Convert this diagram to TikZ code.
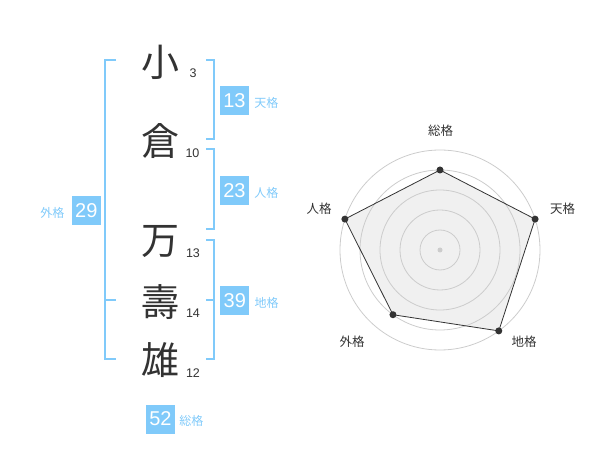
\documentclass[tikz,border=0pt]{standalone}
\usepackage{fontspec}
\setmainfont{Liberation Sans}
\newfontfamily\jfont{Noto Sans CJK JP}
\usepackage{tikz}
\usetikzlibrary{positioning}
\pgfdeclarelayer{webbg}
\pgfsetlayers{webbg,main}
\definecolor{kakublue}{RGB}{128,202,250}
\definecolor{inkgray}{RGB}{51,51,51}
\definecolor{ringgray}{RGB}{204,204,204}
\definecolor{webfill}{RGB}{240,240,240}

\begin{document}
\begin{tikzpicture}[x=1pt,y=-1pt,
	kanji/.style={text=inkgray,inner sep=0pt,font=\jfont\fontsize{38}{38}\selectfont},
	strokes/.style={text=inkgray,inner sep=0pt,font=\fontsize{12.5}{12.5}\selectfont},
	kakubox/.style={fill=kakublue,text=white,minimum size=29pt,inner sep=0pt,font=\fontsize{20}{20}\selectfont},
	kakuname/.style={text=kakublue,inner sep=0pt,font=\jfont\fontsize{12}{12}\selectfont},
	bracket/.style={draw=kakublue,line width=2pt},
	ring/.style={draw=ringgray,line width=0.8pt},
	vertex/.style={circle,fill=inkgray,minimum size=7pt,inner sep=0pt},
	axisname/.style={text=inkgray,inner sep=0pt,font=\jfont\fontsize{12.5}{12.5}\selectfont}]
			\useasboundingbox (0,0) rectangle (600,470);
			\node at (160,62.5) (K1) [kanji] {小} ;
			\node at (160,141.3) (K2) [kanji] {倉} ;
			\node at (160,241.7) (K3) [kanji] {万} ;
			\node at (160,301.7) (K4) [kanji] {壽} ;
			\node at (160,360) (K5) [kanji] {雄} ;
			\node at (193,72.8) (S1) [strokes] {3} ;
			\node at (192.5,153) (S2) [strokes] {10} ;
			\node at (193,252.7) (S3) [strokes] {13} ;
			\node at (193,313) (S4) [strokes] {14} ;
			\node at (193,373) (S5) [strokes] {12} ;
			\draw[bracket] (116,60) -- (105,60) -- (105,359) -- (116,359); \draw[bracket] (105,300) -- (116,300);
			\draw[bracket] (206,60) -- (214,60) -- (214,139) -- (206,139);
			\draw[bracket] (206,149) -- (214,149) -- (214,229) -- (206,229);
			\draw[bracket] (206,240) -- (214,240) -- (214,359) -- (206,359); \draw[bracket] (206,300) -- (214,300);
			\node at (234.5,100.5) (ten) [kakubox] {13} ;
			\node at (234.5,190.3) (jin) [kakubox] {23} ;
			\node at (86.3,210.3) (gai) [kakubox] {29} ;
			\node at (234.8,300.3) (chi) [kakubox] {39} ;
			\node at (160.5,419) (sou) [kakubox] {52} ;
			\node [kakuname, right=5pt of ten.base east, anchor=base west] (tenL) {天格} ;
			\node [kakuname, right=5pt of jin.base east, anchor=base west] (jinL) {人格} ;
			\node [kakuname, left=7pt of gai.base west, anchor=base east] (gaiL) {外格} ;
			\node [kakuname, right=5pt of chi.base east, anchor=base west] (chiL) {地格} ;
			\node [kakuname, right=4pt of sou.base east, anchor=base west] (souL) {総格} ;
			\begin{scope}[shift={(440,250)}]
			\node at (-90:80) (V1) [vertex] {} ;
			\node at (-18:100) (V2) [vertex] {} ;
			\node at (54:100) (V3) [vertex] {} ;
			\node at (126:80) (V4) [vertex] {} ;
			\node at (198:100) (V5) [vertex] {} ;
			\begin{pgfonlayer}{webbg}
			\fill[webfill] (V1.center) -- (V2.center) -- (V3.center) -- (V4.center) -- (V5.center) -- cycle;
			\foreach \r in {20,40,...,100} \draw[ring] (0,0) circle (\r pt);
			\fill[ringgray] (0,0) circle (2.5pt);
			\draw[inkgray,line width=0.8pt] (V1.center) -- (V2.center) -- (V3.center) -- (V4.center) -- (V5.center) -- cycle;
			\end{pgfonlayer}
			\end{scope}
			\node at (440.5,131) (souA) [axisname] {総格} ;
			\node at (562.5,209) (tenA) [axisname] {天格} ;
			\node at (524,342) (chiA) [axisname] {地格} ;
			\node at (352,342) (gaiA) [axisname] {外格} ;
			\node at (319,209) (jinA) [axisname] {人格} ;
\end{tikzpicture}
\end{document}
